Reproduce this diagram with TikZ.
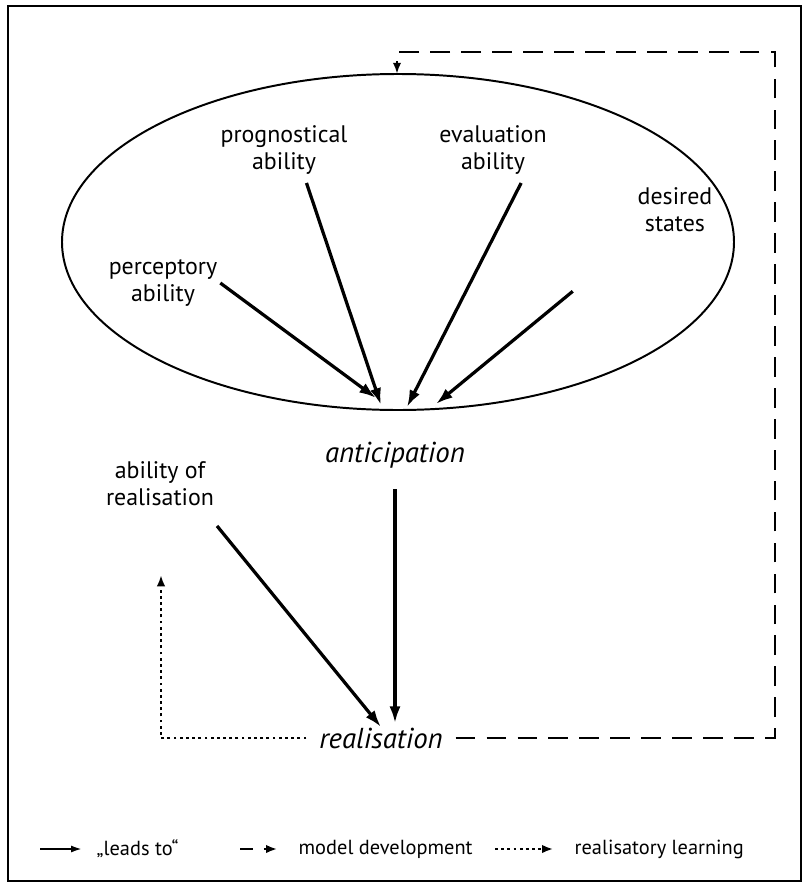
\documentclass[tikz,border=0pt]{standalone}
\usepackage{fontspec}
\setmainfont{PT Sans}
\usetikzlibrary{arrows.meta}
\begin{document}
\begin{tikzpicture}[x=0.025cm,y=-0.025cm,
  ability/.style={align=center,font=\fontsize{17}{19}\selectfont,inner sep=2pt},
  phase/.style={font=\fontsize{20.5}{22}\selectfont\itshape,inner sep=3pt},
  leadsto/.style={line width=2.3pt,-{Latex[length=12pt,width=8pt]}},
  modeldev/.style={line width=2pt,dash pattern=on 14pt off 8pt,-{Latex[length=8pt,width=6pt]}},
  realearn/.style={line width=1.6pt,dash pattern=on 2pt off 2.4pt,-{Latex[length=8pt,width=6pt]}},
  legend/.style={font=\fontsize{14.5}{17}\selectfont,anchor=west,inner sep=1pt}]
\useasboundingbox (0,0) rectangle (810,888);
\draw[line width=2pt] (8,6) rectangle (801,881);
\draw[line width=1.4pt] (398,242) ellipse [x radius=336, y radius=168];
\node[ability] (perc) at (163,283) {perceptory\\ability};
\node[ability] (prog) at (284,150) {prognostical\\ability};
\node[ability] (eval) at (493,150) {evaluation\\ability};
\node[ability] (desi) at (675,210) {desired\\states};
\node[phase] (antic) at (395,455) {anticipation};
\node[ability] (abreal) at (160,484) {ability of\\realisation};
\node[phase,inner xsep=9pt] (real) at (381,738) {realisation};
\coordinate (tipA) at (376,398);
\coordinate (tipB) at (381,405);
\coordinate (tipC) at (407,407);
\coordinate (tipD) at (436,404);
\coordinate (tipE) at (381,727);
\coordinate (tipM) at (397,74);
\coordinate (cornM) at (775,52);
\coordinate (tipL) at (161,575);
\draw[leadsto] (perc.east) -- (tipA);
\draw[leadsto] ([xshift=16pt,yshift=-4pt]prog.south) -- (tipB);
\draw[leadsto] ([xshift=20pt,yshift=-4pt]eval.south) -- (tipC);
\draw[leadsto] ([xshift=-44pt,yshift=-40pt]desi.south west) -- (tipD);
\draw[leadsto] ([yshift=-12pt]antic.south) -- (antic.south |- real.north);
\draw[leadsto] ([xshift=0pt,yshift=-12pt]abreal.south east) -- (tipE);
\draw[modeldev] (real.east) -| (cornM) -| (tipM);
\draw[realearn] (real.west) -| (tipL);
% legend
\node[legend] (lead) at (95,849) {„leads to“};
\node[legend] (mod) at (297,849) {model development};
\node[legend] (rl) at (573,849) {realisatory learning};
\coordinate (sA) at (40,849);
\coordinate (sB) at (240,849);
\coordinate (sC) at (495,849);
\draw[leadsto,line width=1.6pt,-{Latex[length=8pt,width=5pt]}] (sA) -- ([xshift=-9pt]lead.west);
\draw[modeldev,dash pattern=on 9pt off 8pt] (sB) -- ([xshift=-14pt]mod.west);
\draw[realearn] (sC) -- ([xshift=-14pt]rl.west);
\end{tikzpicture}
\end{document}
